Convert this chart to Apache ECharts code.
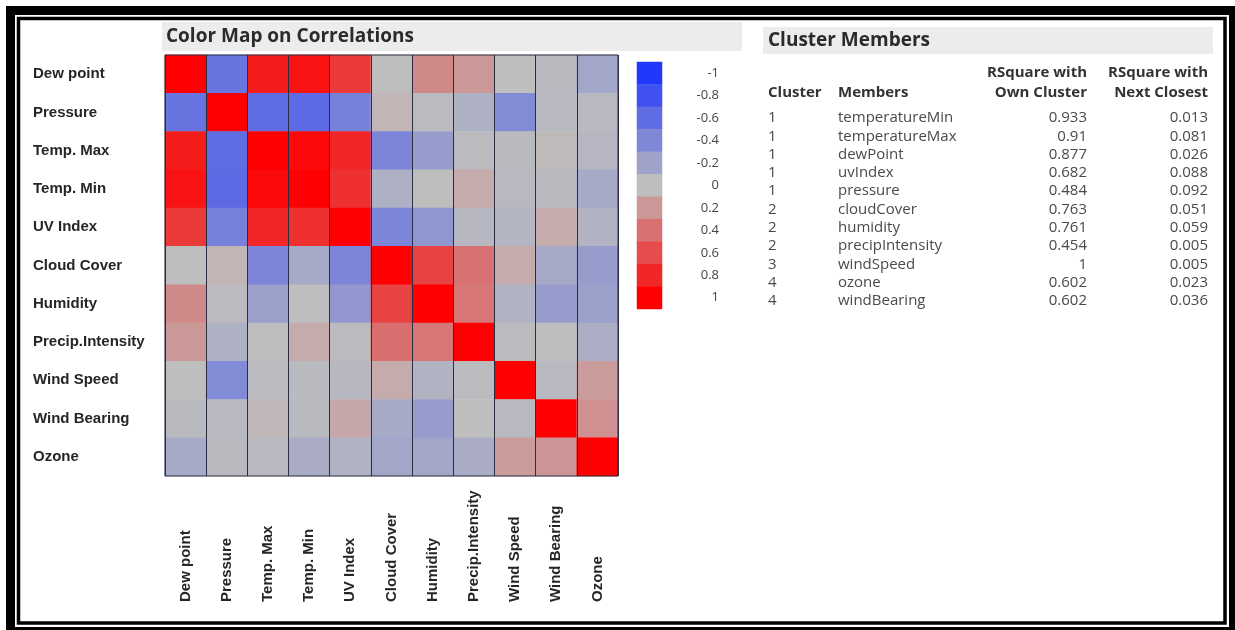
<!DOCTYPE html>
<html>
<head>
<meta charset="utf-8">
<script src="https://cdn.jsdelivr.net/npm/echarts@6/dist/echarts.min.js"></script>
<style>
  html, body { margin: 0; padding: 0; background: #ffffff; }
  #chart { width: 1235px; height: 630px; }
</style>
</head>
<body>
<div id="chart"></div>
<script>
// Variables of the weather data set (same order on both axes)
const variables = ['Dew point', 'Pressure', 'Temp. Max', 'Temp. Min', 'UV Index',
  'Cloud Cover', 'Humidity', 'Precip.Intensity', 'Wind Speed', 'Wind Bearing', 'Ozone'];

// Pairwise correlations, one row per variable
const corrDewPoint    = [1, -0.55, 0.85, 0.9, 0.7, 0.0, 0.28, 0.2, 0.0, -0.03, -0.18];
const corrPressure    = [-0.55, 1, -0.6, -0.62, -0.45, 0.05, -0.02, -0.1, -0.38, -0.04, -0.04];
const corrTempMax     = [0.85, -0.6, 1, 0.95, 0.8, -0.42, -0.25, -0.02, -0.03, 0.02, -0.06];
const corrTempMin     = [0.9, -0.62, 0.95, 1, 0.75, -0.1, 0.0, 0.1, -0.04, -0.03, -0.15];
const corrUVIndex     = [0.7, -0.45, 0.8, 0.75, 1, -0.42, -0.3, -0.05, -0.07, 0.1, -0.08];
const corrCloudCover  = [0.0, 0.05, -0.42, -0.15, -0.42, 1, 0.65, 0.4, 0.1, -0.15, -0.25];
const corrHumidity    = [0.28, -0.02, -0.22, 0.0, -0.28, 0.65, 1, 0.38, -0.08, -0.25, -0.22];
const corrPrecip      = [0.2, -0.1, 0.0, 0.1, -0.02, 0.42, 0.38, 1, -0.02, 0.0, -0.12];
const corrWindSpeed   = [0.0, -0.38, -0.02, -0.03, -0.05, 0.1, -0.08, -0.02, 1, -0.04, 0.18];
const corrWindBearing = [-0.03, -0.04, 0.03, -0.03, 0.12, -0.15, -0.25, 0.0, -0.04, 1, 0.24];
const corrOzone       = [-0.15, -0.03, -0.04, -0.13, -0.08, -0.18, -0.18, -0.13, 0.18, 0.22, 1];

const correlationRows = [corrDewPoint, corrPressure, corrTempMax, corrTempMin, corrUVIndex,
  corrCloudCover, corrHumidity, corrPrecip, corrWindSpeed, corrWindBearing, corrOzone];

// Colour scale ticks
const scaleTicks = ['-1', '-0.8', '-0.6', '-0.4', '-0.2', '0', '0.2', '0.4', '0.6', '0.8', '1'];

// Cluster membership table
const clusterIds   = [1, 1, 1, 1, 1, 2, 2, 2, 3, 4, 4];
const memberNames  = ['temperatureMin', 'temperatureMax', 'dewPoint', 'uvIndex', 'pressure',
  'cloudCover', 'humidity', 'precipIntensity', 'windSpeed', 'ozone', 'windBearing'];
const rsqOwn       = [0.933, 0.91, 0.877, 0.682, 0.484, 0.763, 0.761, 0.454, 1, 0.602, 0.602];
const rsqNext      = [0.013, 0.081, 0.026, 0.088, 0.092, 0.051, 0.059, 0.005, 0.005, 0.023, 0.036];

const heatData = [];
correlationRows.forEach(function (row, r) {
  row.forEach(function (v, c) { heatData.push([c, r, v]); });
});
const scaleData = scaleTicks.map(function (t, i) { return [0, i, parseFloat(t)]; });

const labelFont = { fontFamily: 'Liberation Sans', fontWeight: 'bold', fontSize: 15, color: '#262626' };
const uiFont = '"Open Sans", "Noto Sans", sans-serif';

// Frame, title bands and cluster table
const graphics = [
  { type: 'rect', silent: true, z: 100, shape: { x: 10.5, y: 10.5, width: 1223, height: 621 },
    style: { fill: 'none', stroke: '#000', lineWidth: 9 } },
  { type: 'rect', silent: true, z: 100, shape: { x: 18.5, y: 18.5, width: 1206.5, height: 604.5 },
    style: { fill: 'none', stroke: '#000', lineWidth: 3.5 } },
  { type: 'rect', silent: true, z: 1, shape: { x: 162, y: 22, width: 580, height: 29 },
    style: { fill: '#ececec' } },
  { type: 'text', silent: true, z: 2, x: 166, y: 37,
    style: { text: 'Color Map on Correlations', font: 'bold 19px ' + uiFont, fill: '#2b2b2b',
      textAlign: 'left', textVerticalAlign: 'middle' } },
  { type: 'rect', silent: true, z: 1, shape: { x: 763, y: 27, width: 450, height: 27 },
    style: { fill: '#ececec' } },
  { type: 'text', silent: true, z: 2, x: 768, y: 41,
    style: { text: 'Cluster Members', font: 'bold 19px ' + uiFont, fill: '#2b2b2b',
      textAlign: 'left', textVerticalAlign: 'middle' } }
];

const tableCols = {
  cluster: 768, members: 838, own: 1087, next: 1208
};
const headerFont = 'bold 15px ' + uiFont;
const cellFont = '15px ' + uiFont;
function addText(text, x, y, font, align, fill) {
  graphics.push({ type: 'text', silent: true, z: 2, x: x, y: y,
    style: { text: text, font: font, fill: fill, textAlign: align, textVerticalAlign: 'middle' } });
}
const headTop = 73, headBottom = 93, rowStart = 118, rowStep = 18.3;
addText('Cluster', tableCols.cluster, headBottom, headerFont, 'left', '#333');
addText('Members', tableCols.members, headBottom, headerFont, 'left', '#333');
addText('RSquare with', tableCols.own, headTop, headerFont, 'right', '#333');
addText('Own Cluster', tableCols.own, headBottom, headerFont, 'right', '#333');
addText('RSquare with', tableCols.next, headTop, headerFont, 'right', '#333');
addText('Next Closest', tableCols.next, headBottom, headerFont, 'right', '#333');
memberNames.forEach(function (name, i) {
  const y = rowStart + i * rowStep;
  addText(String(clusterIds[i]), tableCols.cluster, y, cellFont, 'left', '#4a4a4a');
  addText(name, tableCols.members, y, cellFont, 'left', '#4a4a4a');
  addText(String(rsqOwn[i]), tableCols.own, y, cellFont, 'right', '#4a4a4a');
  addText(String(rsqNext[i]), tableCols.next, y, cellFont, 'right', '#4a4a4a');
});

const chart = echarts.init(document.getElementById('chart'), null, { renderer: 'canvas' });
chart.setOption({
  backgroundColor: '#ffffff',
  animation: false,
  grid: [
    { left: 165, top: 55, width: 453, height: 421, show: true, z: 5,
      backgroundColor: 'transparent', borderColor: '#2a2e40', borderWidth: 1 },
    { left: 637, top: 62, width: 25, height: 247, show: false }
  ],
  xAxis: [
    { type: 'category', gridIndex: 0, data: variables, z: 5,
      axisLine: { show: false }, axisTick: { show: false },
      splitLine: { show: true, interval: 0, lineStyle: { color: '#2a2e40', width: 1 } },
      axisLabel: Object.assign({ rotate: 90, align: 'left', verticalAlign: 'middle',
        margin: 126, interval: 0 }, labelFont) },
    { type: 'category', gridIndex: 1, data: [''], show: false }
  ],
  yAxis: [
    { type: 'category', gridIndex: 0, data: variables, inverse: true,
      axisLine: { show: false }, axisTick: { show: false }, splitLine: { show: false },
      axisLabel: Object.assign({ align: 'left', margin: 132, interval: 0 }, labelFont) },
    { type: 'category', gridIndex: 1, data: scaleTicks, inverse: true, position: 'right',
      axisLine: { show: false }, axisTick: { show: false }, splitLine: { show: false },
      axisLabel: { align: 'right', margin: 57, interval: 0, fontFamily: uiFont,
        fontSize: 13, color: '#444' } }
  ],
  visualMap: {
    type: 'continuous', show: false, min: -1, max: 1, seriesIndex: [0, 1],
    inRange: { color: ['#2137fb', '#bebebe', '#ff0000'] }
  },
  graphic: graphics,
  series: [
    { type: 'heatmap', xAxisIndex: 0, yAxisIndex: 0, data: heatData,
      emphasis: { disabled: true }, progressive: 0 },
    { type: 'heatmap', xAxisIndex: 1, yAxisIndex: 1, data: scaleData,
      emphasis: { disabled: true }, progressive: 0 }
  ]
});
</script>
</body>
</html>
